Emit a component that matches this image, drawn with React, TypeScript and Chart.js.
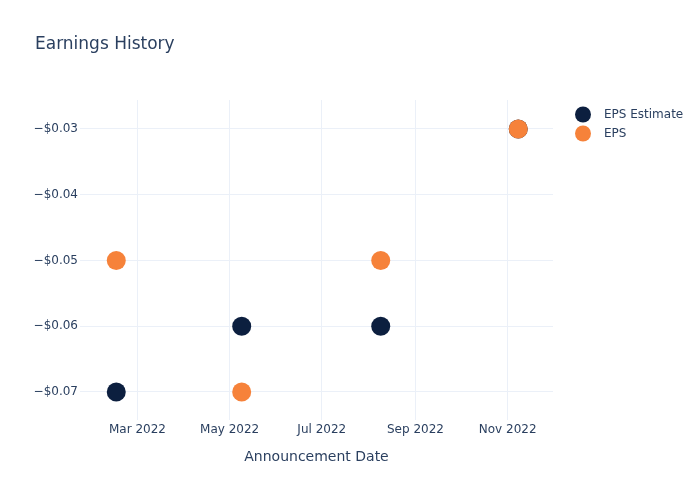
import React, { useEffect, useRef } from "react";
import { Chart, registerables } from "chart.js";

Chart.register(...registerables);

const announcementDates = ["2022-02-15", "2022-05-09", "2022-08-09", "2022-11-08"];
const epsEstimate = [-0.07, -0.06, -0.06, -0.03];
const epsActual = [-0.05, -0.07, -0.05, -0.03];
const xTickDates = ["2022-03-01", "2022-05-01", "2022-07-01", "2022-09-01", "2022-11-01"];
const xTickLabels = ["Mar 2022", "May 2022", "Jul 2022", "Sep 2022", "Nov 2022"];
const yTickValues = [-0.07, -0.06, -0.05, -0.04, -0.03];
const seriesNames = ["EPS Estimate", "EPS"];
const seriesColors = ["#0c1f3f", "#f6823a"];
const xRange = ["2022-01-22", "2022-12-01"];
const yRange = [-0.07426, -0.02559];

const toTs = (s: string) => {
  const [y, m, d] = s.split("-").map(Number);
  return Date.UTC(y, m - 1, d);
};

const TEXT = "#2a3f5f";
const FONT = "'DejaVu Sans', 'Open Sans', sans-serif";

export default function App() {
  const ref = useRef<HTMLCanvasElement | null>(null);

  useEffect(() => {
    if (!ref.current) return;
    const overlay = {
      id: "overlay",
      afterDraw(chart: any) {
        const ctx = chart.ctx;
        ctx.save();
        ctx.fillStyle = TEXT;
        ctx.textBaseline = "middle";
        ctx.textAlign = "left";
        ctx.font = `17px ${FONT}`;
        ctx.fillText("Earnings History", 35, 45);
        ctx.font = `12px ${FONT}`;
        seriesNames.forEach((name, i) => {
          const y = 114.5 + i * 19;
          ctx.beginPath();
          ctx.fillStyle = seriesColors[i];
          ctx.arc(583, y, 8, 0, Math.PI * 2);
          ctx.fill();
          ctx.fillStyle = TEXT;
          ctx.fillText(name, 604, y + 0.5);
        });
        ctx.restore();
      },
    };

    const chart = new Chart(ref.current, {
      type: "scatter",
      data: {
        datasets: [
          {
            label: seriesNames[0],
            data: announcementDates.map((d, i) => ({ x: toTs(d), y: epsEstimate[i] })),
            backgroundColor: seriesColors[0],
            borderColor: seriesColors[0],
            borderWidth: 0,
            pointRadius: 9.5,
            pointHoverRadius: 9.5,
            order: 1,
          },
          {
            label: seriesNames[1],
            data: announcementDates.map((d, i) => ({ x: toTs(d), y: epsActual[i] })),
            backgroundColor: seriesColors[1],
            borderColor: seriesColors[1],
            borderWidth: 0,
            pointRadius: 9.5,
            pointHoverRadius: 9.5,
            order: 0,
          },
        ],
      },
      options: {
        animation: false,
        responsive: false,
        maintainAspectRatio: false,
        clip: false as any,
        layout: { padding: { left: 0, top: 100, right: 147, bottom: 0 } },
        plugins: {
          legend: { display: false },
          title: { display: false },
          tooltip: { enabled: false },
        },
        scales: {
          x: {
            type: "linear",
            min: toTs(xRange[0]),
            max: toTs(xRange[1]),
            afterBuildTicks: (scale: any) => {
              scale.ticks = xTickDates.map((d) => ({ value: toTs(d) }));
            },
            afterFit: (scale: any) => {
              scale.height = 80;
            },
            ticks: {
              color: TEXT,
              font: { family: FONT, size: 12 },
              padding: 3,
              maxRotation: 0,
              autoSkip: false,
              callback: (v: any) => {
                const idx = xTickDates.findIndex((d) => toTs(d) === v);
                return idx >= 0 ? xTickLabels[idx] : "";
              },
            },
            grid: { color: "#ebf0f8", lineWidth: 1, drawTicks: false },
            border: { display: false },
            title: {
              display: true,
              text: "Announcement Date",
              color: TEXT,
              font: { family: FONT, size: 14 },
              padding: { top: 0, bottom: 34 },
            },
          },
          y: {
            type: "linear",
            min: yRange[0],
            max: yRange[1],
            afterBuildTicks: (scale: any) => {
              scale.ticks = yTickValues.map((v) => ({ value: v }));
            },
            afterFit: (scale: any) => {
              scale.width = 80;
            },
            ticks: {
              color: TEXT,
              font: { family: FONT, size: 12 },
              padding: 2,
              autoSkip: false,
              callback: (v: any) => "\u2212$" + Math.abs(Number(v)).toFixed(2),
            },
            grid: { color: "#ebf0f8", lineWidth: 1, drawTicks: false },
            border: { display: false },
          },
        },
      },
      plugins: [overlay],
    } as any);
    return () => chart.destroy();
  }, []);

  return (
    <div style={{ position: "fixed", left: 0, top: 0, width: 700, height: 500, background: "#fff" }}>
      <canvas ref={ref} width={700} height={500} style={{ width: 700, height: 500 }} />
    </div>
  );
}
